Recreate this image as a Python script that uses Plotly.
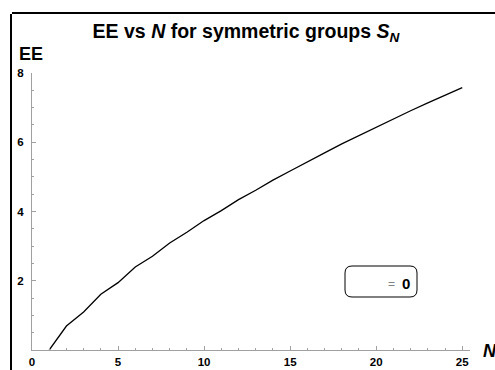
import plotly.graph_objects as go

# N values and entanglement entropy EE for the symmetric groups S_N
n_values = list(range(1, 26))
ee_values = [0.000, 0.693, 1.099, 1.609, 1.946, 2.398, 2.708, 3.091, 3.401, 3.738,
             4.025, 4.344, 4.615, 4.905, 5.170, 5.442, 5.694, 5.953, 6.194, 6.441,
             6.675, 6.910, 7.135, 7.362, 7.580]

x_ticks = [0, 5, 10, 15, 20, 25]
y_ticks = [2, 4, 6, 8]

W, H = 495, 370
# the paper area is the framed panel; the data axes sit inside it via domains
L, R, T, B = 12, 0, 14, 0
PW, PH = W - L - R, H - T - B


def px(xp):
    return (xp - L) / PW


def py(yp):
    return (H - B - yp) / PH


FONT = "Liberation Sans, Arial, sans-serif"

fig = go.Figure()
fig.add_trace(go.Scatter(x=n_values, y=ee_values, mode="lines", xaxis="x", yaxis="y",
                         line=dict(color="black", width=1.3), showlegend=False,
                         hoverinfo="skip"))
# empty traces carrying the thin frame strips (left edge and top edge)
fig.add_trace(go.Scatter(x=[None], y=[None], xaxis="x2", yaxis="y2",
                         showlegend=False, hoverinfo="skip"))
fig.add_trace(go.Scatter(x=[None], y=[None], xaxis="x3", yaxis="y3",
                         showlegend=False, hoverinfo="skip"))

axis_common = dict(showline=True, linecolor="#a0a0a0", linewidth=1,
                   ticks="inside", ticklen=4, tickcolor="#a0a0a0", tickwidth=1,
                   showgrid=False, zeroline=False, automargin=False,
                   tickfont=dict(family=FONT, size=11.5, color="black", weight="bold"))

hidden = dict(range=[0, 1], showline=False, showticklabels=False, ticks="",
              showgrid=False, zeroline=False, automargin=False, fixedrange=True)
edge = dict(range=[0, 1], showline=True, linecolor="black", linewidth=1.6,
            showticklabels=False, ticks="", showgrid=False, zeroline=False,
            automargin=False, fixedrange=True)

EPS = 0.004
fig.update_layout(
    xaxis=dict(domain=[px(32), px(470)], range=[0, 25.45], tickmode="array",
               tickvals=x_ticks, anchor="y",
               minor=dict(tickmode="linear", tick0=0, dtick=1, ticks="inside",
                          ticklen=2, tickcolor="#a0a0a0"),
               ticklabelstandoff=1, **axis_common),
    yaxis=dict(domain=[py(350), py(73)], range=[0, 8], tickmode="array",
               tickvals=y_ticks, anchor="x",
               minor=dict(tickmode="linear", tick0=0, dtick=0.5, ticks="inside",
                          ticklen=2, tickcolor="#a0a0a0"),
               ticklabelstandoff=5, **axis_common),
    # left edge strip
    xaxis2=dict(domain=[0, EPS], anchor="y2", **hidden),
    yaxis2=dict(domain=[0, 1], anchor="x2", side="left", **edge),
    # top edge strip
    xaxis3=dict(domain=[0, 1], anchor="y3", side="top", **edge),
    yaxis3=dict(domain=[1 - EPS, 1], anchor="x3", **hidden),
)

# rounded legend box
x0, x1, y0, y1 = px(345), px(417), py(297), py(266)
rx, ry = 7 / PW, 7 / PH
box = (f"M {x0+rx},{y1} L {x1-rx},{y1} Q {x1},{y1} {x1},{y1-ry} "
       f"L {x1},{y0+ry} Q {x1},{y0} {x1-rx},{y0} L {x0+rx},{y0} "
       f"Q {x0},{y0} {x0},{y0+ry} L {x0},{y1-ry} Q {x0},{y1} {x0+rx},{y1} Z")
fig.add_shape(type="path", xref="paper", yref="paper", path=box,
              line=dict(color="black", width=1), fillcolor="white")

fig.add_annotation(xref="paper", yref="paper", x=px(391), y=py(284),
                   text="=", showarrow=False, xanchor="center", yanchor="middle",
                   font=dict(family=FONT, size=12, color="#808080"))
fig.add_annotation(xref="paper", yref="paper", x=px(406), y=py(283),
                   text="<b>0</b>", showarrow=False, xanchor="center", yanchor="middle",
                   font=dict(family=FONT, size=15, color="black"))

# axis labels
fig.add_annotation(xref="paper", yref="paper", x=px(17), y=py(54),
                   text="<b>EE</b>", showarrow=False, xanchor="left", yanchor="middle",
                   font=dict(family=FONT, size=18, color="black"))
fig.add_annotation(xref="paper", yref="paper", x=px(481), y=py(351),
                   text="<b><i>N</i></b>", showarrow=False, xanchor="left", yanchor="middle",
                   font=dict(family=FONT, size=18, color="black"))

fig.update_layout(
    width=W, height=H,
    margin=dict(l=L, r=R, t=T, b=B, autoexpand=False),
    paper_bgcolor="white", plot_bgcolor="white",
    title=dict(text="<b>EE vs <i>N</i> for symmetric groups <i>S<sub>N</sub></i></b>",
               x=246 / W, xref="container", xanchor="center",
               y=1 - 31 / H, yref="container", yanchor="middle", automargin=False,
               font=dict(family=FONT, size=19.5, color="black")),
)

fig.write_html("out.html")
